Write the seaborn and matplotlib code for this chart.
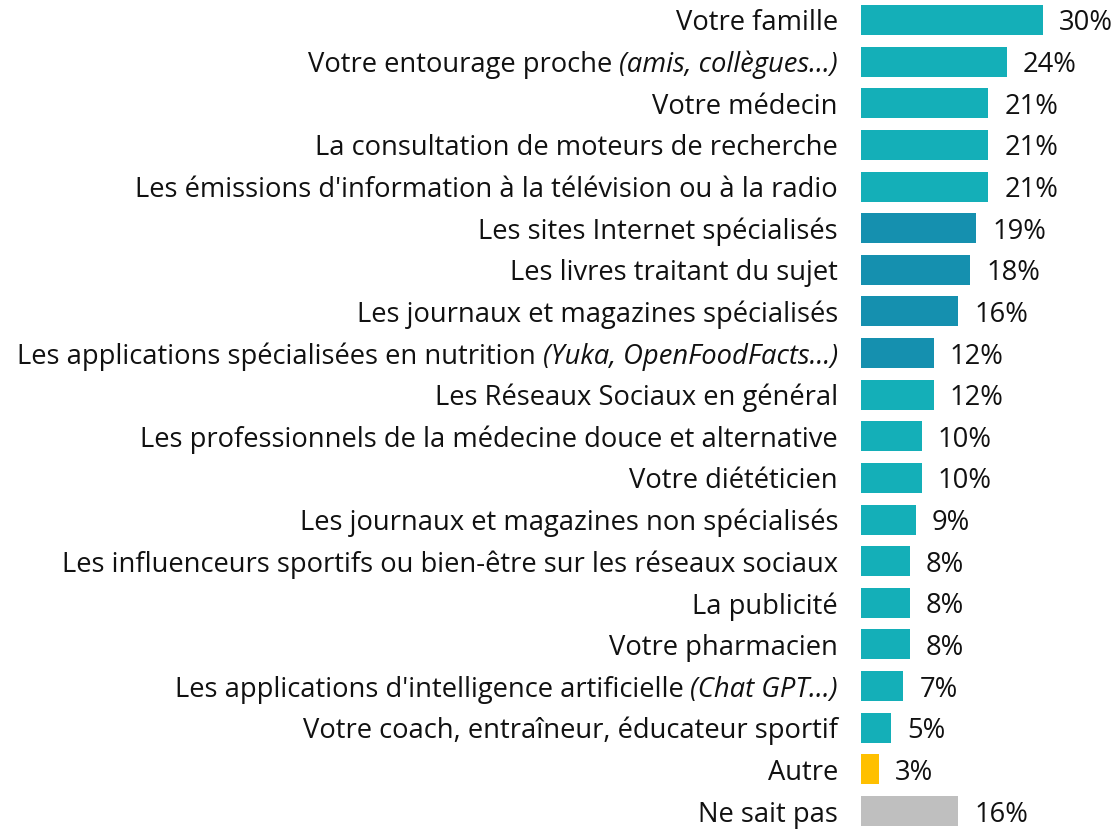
import matplotlib
matplotlib.use("Agg")
import matplotlib.pyplot as plt
import seaborn as sns
import pandas as pd

# Survey answers: main label, optional italic precision, share in %
labels = [
    "Votre famille",
    "Votre entourage proche",
    "Votre médecin",
    "La consultation de moteurs de recherche",
    "Les émissions d'information à la télévision ou à la radio",
    "Les sites Internet spécialisés",
    "Les livres traitant du sujet",
    "Les journaux et magazines spécialisés",
    "Les applications spécialisées en nutrition",
    "Les Réseaux Sociaux en général",
    "Les professionnels de la médecine douce et alternative",
    "Votre diététicien",
    "Les journaux et magazines non spécialisés",
    "Les influenceurs sportifs ou bien-être sur les réseaux sociaux",
    "La publicité",
    "Votre pharmacien",
    "Les applications d'intelligence artificielle",
    "Votre coach, entraîneur, éducateur sportif",
    "Autre",
    "Ne sait pas",
]
details = [
    "", "(amis, collègues…)", "", "", "", "", "", "",
    "(Yuka, OpenFoodFacts…)", "", "", "", "", "", "", "",
    "(Chat GPT…)", "", "", "",
]
values = [30, 24, 21, 21, 21, 19, 18, 16, 12, 12, 10, 10, 9, 8, 8, 8, 7, 5, 3, 16]
groups = ["general"] * 5 + ["specialised"] * 4 + ["general"] * 9 + ["other", "dontknow"]

group_colors = {
    "general": "#14AFB8",
    "specialised": "#1590AF",
    "other": "#FFC000",
    "dontknow": "#BFBFBF",
}

df = pd.DataFrame({"label": labels, "value": values, "group": groups})

W, H, DPI = 1117, 831, 100
fig = plt.figure(figsize=(W / DPI, H / DPI), dpi=DPI)
sns.set_style("white")
plt.rcParams["font.family"] = ["Open Sans", "DejaVu Sans"]

px_per_pct = 6.07
x0_px = 861
xmax = 40
ax = fig.add_axes([x0_px / W, 0, xmax * px_per_pct / W, 1])

sns.barplot(
    data=df, x="value", y="label", hue="group", palette=group_colors,
    dodge=False, width=0.72, orient="h", legend=False, ax=ax,
    saturation=1, linewidth=0,
)

ax.set_xlim(0, xmax)
ax.set_ylim(19.48, -0.48)
ax.set_axis_off()

text_color = "#111111"
fs = 19.7

# Value labels at the end of each bar
for i, v in enumerate(values):
    ax.annotate(f"{v}%", xy=(v, i), xytext=(11.5, 0), textcoords="offset points",
                ha="left", va="center_baseline", fontsize=fs, color=text_color,
                annotation_clip=False)

# Category labels, right-aligned, with italic precision where present
fig.canvas.draw()
renderer = fig.canvas.get_renderer()
label_right_px = 838
for i, (lab, det) in enumerate(zip(labels, details)):
    y_disp = ax.transData.transform((0, i))[1]
    right = label_right_px
    if det:
        t = fig.text(right / W, y_disp / H, det, ha="right", va="center_baseline",
                     fontsize=fs, style="italic", color=text_color)
        bb = t.get_window_extent(renderer)
        right = bb.x0 - 7
    fig.text(right / W, y_disp / H, lab, ha="right", va="center_baseline",
             fontsize=fs, color=text_color)

fig.savefig("out.png", dpi=DPI)
